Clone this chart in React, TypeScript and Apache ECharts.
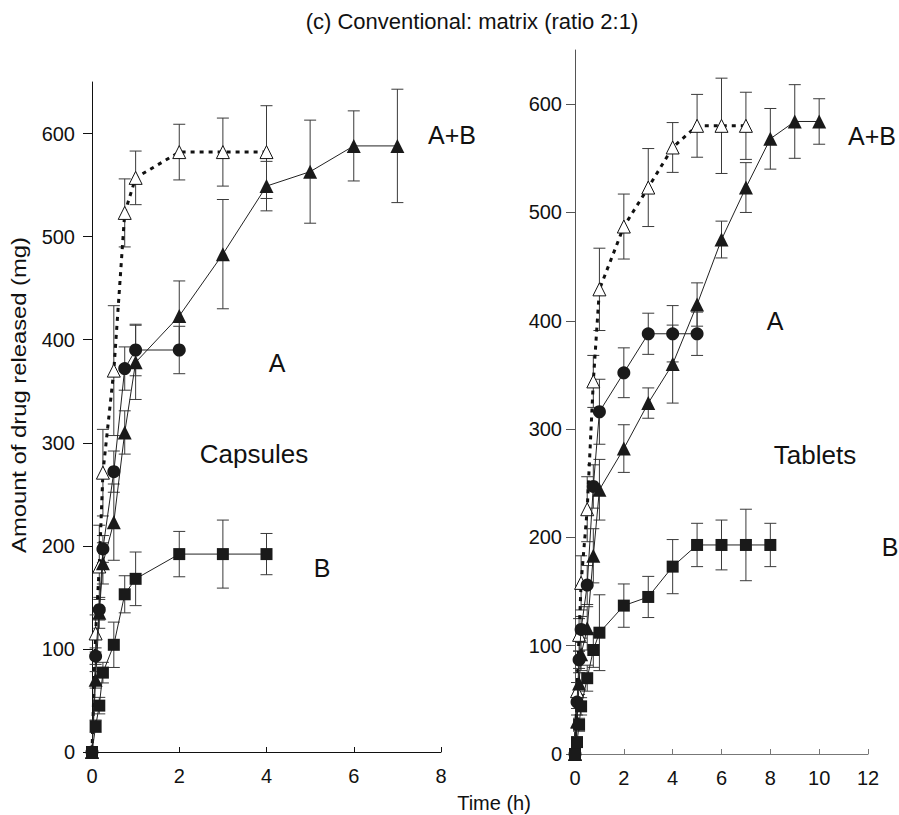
import React, { useEffect, useRef } from "react";
import * as echarts from "echarts";

const FONT = "'Liberation Sans', Arial, Helvetica, sans-serif";

// ---------- Capsules (left panel) ----------
const capCircleT = [0, 0.083, 0.167, 0.25, 0.5, 0.75, 1, 2];
const capCircleV = [0, 93, 138, 197, 272, 372, 390, 390];
const capCircleE = [0, 8, 10, 13, 20, 21, 25, 23];

const capSquareT = [0, 0.083, 0.167, 0.25, 0.5, 0.75, 1, 2, 3, 4];
const capSquareV = [0, 25, 45, 77, 104, 153, 168, 192, 192, 192];
const capSquareE = [0, 6, 8, 10, 22, 18, 26, 22, 33, 20];

const capTriT = [0, 0.083, 0.167, 0.25, 0.5, 0.75, 1, 2, 3, 4, 5, 6, 7];
const capTriV = [0, 70, 135, 183, 223, 310, 378, 423, 483, 549, 563, 588, 588];
const capTriE = [0, 8, 15, 20, 37, 21, 36, 34, 53, 24, 50, 34, 55];

const capOpenT = [0, 0.083, 0.167, 0.25, 0.5, 0.75, 1, 2, 3, 4];
const capOpenV = [0, 115, 180, 271, 370, 523, 557, 582, 582, 582];
const capOpenE = [0, 18, 40, 42, 63, 33, 26, 27, 33, 45];

// ---------- Tablets (right panel) ----------
const tabCircleT = [0, 0.083, 0.167, 0.25, 0.5, 0.75, 1, 2, 3, 4, 5];
const tabCircleV = [0, 48, 87, 115, 156, 247, 316, 352, 388, 388, 388];
const tabCircleE = [0, 6, 8, 12, 18, 20, 30, 23, 19, 26, 20];

const tabSquareT = [0, 0.083, 0.167, 0.25, 0.5, 0.75, 1, 2, 3, 4, 5, 6, 7, 8];
const tabSquareV = [0, 11, 27, 44, 70, 96, 112, 137, 145, 173, 193, 193, 193, 193];
const tabSquareE = [0, 4, 6, 8, 12, 16, 35, 20, 19, 25, 20, 23, 33, 20];

const tabTriT = [0, 0.083, 0.167, 0.25, 0.5, 0.75, 1, 2, 3, 4, 5, 6, 7, 8, 9, 10];
const tabTriV = [0, 30, 65, 92, 116, 183, 244, 282, 324, 360, 415, 475, 523, 568, 584, 584];
const tabTriE = [0, 6, 10, 15, 20, 25, 28, 22, 14, 36, 20, 17, 23, 28, 34, 21];

const tabOpenT = [0, 0.083, 0.167, 0.25, 0.5, 0.75, 1, 2, 3, 4, 5, 6, 7];
const tabOpenV = [0, 58, 110, 158, 226, 344, 429, 487, 523, 560, 580, 580, 580];
const tabOpenE = [0, 8, 15, 25, 30, 24, 38, 30, 36, 23, 29, 44, 31];

// ---------- Axes ----------
const yTicks = [0, 100, 200, 300, 400, 500, 600];
const capXMax = 8;
const tabXMax = 12;
const yMax = 650;

const TITLE = "(c) Conventional: matrix (ratio 2:1)";
const Y_NAME = "Amount of drug released (mg)";
const X_NAME = "Time (h)";

function errSeries(axis: number, t: number[], v: number[], e: number[]) {
  return {
    type: "custom",
    xAxisIndex: axis,
    yAxisIndex: axis,
    z: 1,
    silent: true,
    clip: false,
    encode: { x: 0, y: 1 },
    data: t.map((x, i) => [x, v[i], e[i]]),
    renderItem: (_p: any, api: any) => {
      const x = api.value(0);
      const y = api.value(1);
      const err = api.value(2);
      if (!err) return null;
      const top = api.coord([x, y + err]);
      const bot = api.coord([x, y - err]);
      const hw = 6;
      const st = { stroke: "#3a3a3a", lineWidth: 1 };
      return {
        type: "group",
        children: [
          { type: "line", shape: { x1: top[0], y1: top[1], x2: bot[0], y2: bot[1] }, style: st },
          { type: "line", shape: { x1: top[0] - hw, y1: top[1], x2: top[0] + hw, y2: top[1] }, style: st },
          { type: "line", shape: { x1: bot[0] - hw, y1: bot[1], x2: bot[0] + hw, y2: bot[1] }, style: st },
        ],
      };
    },
  };
}

function lineSeries(axis: number, t: number[], v: number[], kind: string) {
  const base: any = {
    type: "line",
    xAxisIndex: axis,
    yAxisIndex: axis,
    clip: false,
    showSymbol: true,
    silent: true,
    data: t.map((x, i) => [x, v[i]]),
  };
  if (kind === "open") {
    return {
      ...base,
      z: 2,
      symbol: "triangle",
      symbolSize: 13,
      itemStyle: { color: "#ffffff", borderColor: "#111", borderWidth: 1 },
      lineStyle: { color: "#111", width: 3, type: [4, 5] },
    };
  }
  const sym = kind === "circle" ? "circle" : kind === "square" ? "rect" : "triangle";
  const size = kind === "circle" ? 13 : kind === "square" ? 12 : 14;
  return {
    ...base,
    z: 3,
    symbol: sym,
    symbolSize: size,
    itemStyle: { color: "#1a1a1a" },
    lineStyle: { color: "#222", width: 1 },
  };
}

function xAxisDef(grid: number, max: number, color: string) {
  return {
    type: "value",
    gridIndex: grid,
    min: 0,
    max,
    interval: 2,
    axisLine: { show: true, lineStyle: { color, width: 1 } },
    axisTick: { show: true, inside: true, length: 5, lineStyle: { color } },
    axisLabel: { fontSize: 20, color: "#111", fontFamily: FONT, margin: 14 },
    splitLine: { show: false },
  };
}

function yAxisDef(grid: number, color: string, margin: number) {
  return {
    type: "value",
    gridIndex: grid,
    min: 0,
    max: yMax,
    interval: 100,
    axisLine: { show: true, lineStyle: { color, width: 1 } },
    axisTick: { show: true, inside: false, length: 9, customValues: yTicks, lineStyle: { color } },
    axisLabel: { fontSize: 20, color: "#111", fontFamily: FONT, margin, customValues: yTicks },
    splitLine: { show: false },
  };
}

function label(text: string, x: number, y: number, size: number) {
  return {
    type: "text",
    x,
    y,
    silent: true,
    style: {
      text,
      fontSize: size,
      fontFamily: FONT,
      fill: "#111",
      align: "center",
      verticalAlign: "middle",
    },
  };
}

const option: any = {
  animation: false,
  backgroundColor: "#ffffff",
  grid: [
    { left: 92, top: 82, width: 349, height: 670 },
    { left: 575, top: 50, width: 293, height: 704 },
  ],
  xAxis: [xAxisDef(0, capXMax, "#111"), xAxisDef(1, tabXMax, "#777")],
  yAxis: [yAxisDef(0, "#111", 17), yAxisDef(1, "#555", 13)],
  series: [
    errSeries(0, capOpenT, capOpenV, capOpenE),
    errSeries(0, capTriT, capTriV, capTriE),
    errSeries(0, capCircleT, capCircleV, capCircleE),
    errSeries(0, capSquareT, capSquareV, capSquareE),
    lineSeries(0, capOpenT, capOpenV, "open"),
    lineSeries(0, capTriT, capTriV, "tri"),
    lineSeries(0, capCircleT, capCircleV, "circle"),
    lineSeries(0, capSquareT, capSquareV, "square"),
    errSeries(1, tabOpenT, tabOpenV, tabOpenE),
    errSeries(1, tabTriT, tabTriV, tabTriE),
    errSeries(1, tabCircleT, tabCircleV, tabCircleE),
    errSeries(1, tabSquareT, tabSquareV, tabSquareE),
    lineSeries(1, tabOpenT, tabOpenV, "open"),
    lineSeries(1, tabTriT, tabTriV, "tri"),
    lineSeries(1, tabCircleT, tabCircleV, "circle"),
    lineSeries(1, tabSquareT, tabSquareV, "square"),
  ],
  graphic: [
    label(TITLE, 472, 21, 22),
    label(X_NAME, 494, 803, 20),
    {
      type: "text",
      x: 19,
      y: 395,
      rotation: Math.PI / 2,
      scaleX: 1.19,
      silent: true,
      style: {
        text: Y_NAME,
        fontSize: 20,
        fontFamily: FONT,
        fill: "#111",
        align: "center",
        verticalAlign: "middle",
      },
    },
    label("A+B", 452, 135, 25),
    label("A", 277, 363, 25),
    label("Capsules", 254, 454, 26),
    label("B", 322, 568, 25),
    label("A+B", 872, 136, 25),
    label("A", 775, 321, 25),
    label("Tablets", 815, 455, 26),
    label("B", 890, 547, 25),
  ],
};

export default function App() {
  const ref = useRef<HTMLDivElement>(null);
  useEffect(() => {
    document.body.style.margin = "0";
    const chart = echarts.init(ref.current as HTMLDivElement, null, { renderer: "svg" });
    chart.setOption(option);
    return () => chart.dispose();
  }, []);
  return <div ref={ref} style={{ width: 899, height: 815 }} />;
}
